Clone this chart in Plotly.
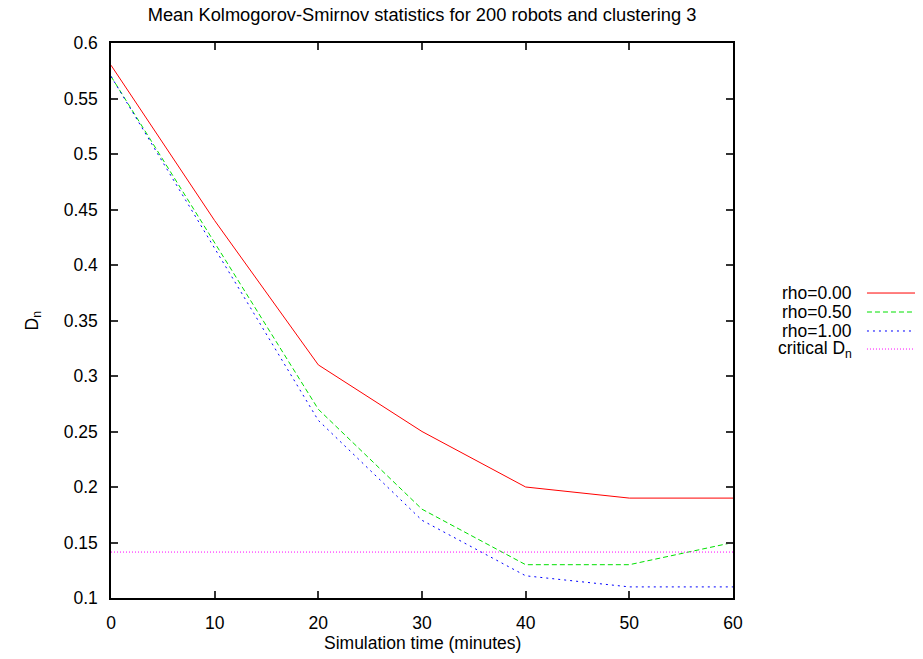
import plotly.graph_objects as go

time_min = [0, 10, 20, 30, 40, 50, 60]
rho_000 = [0.58, 0.44, 0.31, 0.25, 0.20, 0.19, 0.19]
rho_050 = [0.57, 0.42, 0.27, 0.18, 0.13, 0.13, 0.15]
rho_100 = [0.57, 0.415, 0.26, 0.17, 0.12, 0.11, 0.11]
critical_dn = 0.1414

series_names = ["rho=0.00", "rho=0.50", "rho=1.00", "critical D<sub>n</sub>"]
series_colors = ["#ff0000", "#00e000", "#0000ff", "#ff00ff"]
series_dash = ["solid", "5px,3px", "2px,4px", "1px,2px"]

FONT = "Liberation Sans, Arial, sans-serif"
FS = 17.5

fig = go.Figure()
for name, vals, col, dash in zip(series_names[:3], [rho_000, rho_050, rho_100],
                                 series_colors[:3], series_dash[:3]):
    fig.add_trace(go.Scatter(x=time_min, y=vals, mode="lines", name=name,
                             line=dict(color=col, width=1, dash=dash),
                             showlegend=False))
fig.add_trace(go.Scatter(x=[time_min[0], time_min[-1]], y=[critical_dn, critical_dn],
                         mode="lines", name=series_names[3],
                         line=dict(color=series_colors[3], width=1, dash=series_dash[3]),
                         showlegend=False))

# gnuplot-style legend (text right, sample to the right)
legend_y = [0.5495, 0.5153, 0.4811, 0.4486]
for name, col, dash, yy in zip(series_names, series_colors, series_dash, legend_y):
    fig.add_annotation(x=1.1945, y=yy, xref="paper", yref="paper", text=name,
                       showarrow=False, xanchor="right", yanchor="middle",
                       font=dict(size=FS, color="black", family=FONT))
    fig.add_shape(type="line", xref="paper", yref="paper", x0=1.2154, x1=1.299,
                  y0=yy, y1=yy, line=dict(color=col, width=1, dash=dash))

# axis titles as annotations for exact placement
fig.add_annotation(x=0.5, y=-0.0811, xref="paper", yref="paper",
                   text="Simulation time (minutes)", showarrow=False,
                   xanchor="center", yanchor="middle",
                   font=dict(size=FS, color="black", family=FONT))
fig.add_annotation(x=-0.1254, y=0.5, xref="paper", yref="paper",
                   text="D<sub>n</sub>", showarrow=False, textangle=-90,
                   xanchor="center", yanchor="middle",
                   font=dict(size=FS, color="black", family=FONT))

axis_common = dict(showline=True, linecolor="black", linewidth=1.5, mirror="ticks",
                   ticks="inside", ticklen=7, tickcolor="#333", tickwidth=1.5,
                   showgrid=False, zeroline=False, ticklabelstandoff=8, automargin=False,
                   tickfont=dict(size=FS, color="black", family=FONT))

fig.update_xaxes(range=[0, 60], tickvals=[0, 10, 20, 30, 40, 50, 60], **axis_common)
fig.update_yaxes(range=[0.1, 0.6],
                 tickvals=[0.1, 0.15, 0.2, 0.25, 0.3, 0.35, 0.4, 0.45, 0.5, 0.55, 0.6],
                 ticktext=["0.1", "0.15", "0.2", "0.25", "0.3", "0.35", "0.4", "0.45", "0.5", "0.55", "0.6"],
                 **axis_common)

# Page body has an 8px margin: shrink figure so the plot area lands at x 111-733, y 43-598
fig.update_layout(
    width=915, height=651,
    margin=dict(l=103, r=190, t=35, b=61),
    paper_bgcolor="white", plot_bgcolor="white",
    font=dict(family=FONT, size=FS, color="black"),
    title=dict(text="Mean Kolmogorov-Smirnov statistics for 200 robots and clustering 3",
               x=(103 + 915 - 190) / 2 / 915, xanchor="center", y=1 - 7 / 651, yanchor="middle",
               font=dict(size=18.3)),
)

fig.write_html("out.html")
